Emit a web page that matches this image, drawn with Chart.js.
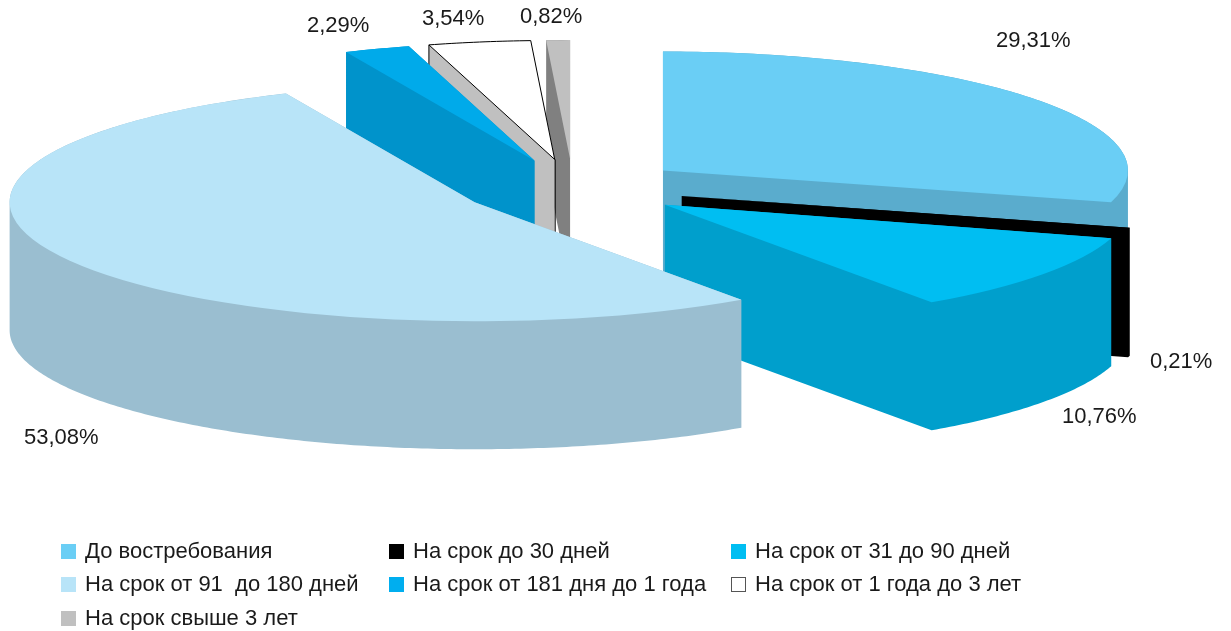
<!DOCTYPE html>
<html>
<head>
<meta charset="utf-8">
<script src="https://cdn.jsdelivr.net/npm/chart.js@4.4.1/dist/chart.umd.min.js"></script>
<style>
  html, body { margin: 0; padding: 0; background: #ffffff; }
  #wrap { position: relative; width: 1231px; height: 631px; overflow: hidden; }
  #c { position: absolute; left: 0; top: 0; }
  .lg-item { position: absolute; height: 25px; white-space: pre;
             font-family: 'Liberation Sans', Arial, Helvetica, sans-serif; font-size: 22px;
             line-height: 25px; color: #1a1a1a; }
  .lg-box { position: absolute; left: 0; top: 6px; width: 15px; height: 15px; box-sizing: border-box; }
  .lg-text { position: absolute; left: 24px; top: 0; }
</style>
</head>
<body>
<div id="wrap">
  <canvas id="c" width="1231" height="631"></canvas>
  <div id="legend"></div>
</div>
<script>
// ---- data ----
const categories = [
  'До востребования',
  'На срок до 30 дней',
  'На срок от 31 до 90 дней',
  'На срок от 91  до 180 дней',
  'На срок от 181 дня до 1 года',
  'На срок от 1 года до 3 лет',
  'На срок свыше 3 лет'
];
const shares = [29.31, 0.21, 10.76, 53.08, 2.29, 3.54, 0.82];
const shareLabels = shares.map(v => v.toFixed(2).replace('.', ',') + '%');

// ---- styles ----
const topColors  = ['#6ACEF5', '#000000', '#00BEF2', '#B8E4F8', '#00AAEA', '#FFFFFF', '#C0C0C0'];
const sideColors = ['#5AACCD', '#000000', '#009FCC', '#9ABED0', '#0093CB', '#C0C0C0', '#808080'];
const legendColors = ['#6ACEF5', '#000000', '#00BEF2', '#B8E4F8', '#00AEEF', '#FFFFFF', '#C0C0C0'];
const edgeColors = [null, null, null, null, null, '#000000', null];
// text anchors for value labels (left x, baseline y)
const labelAnchors = [[996, 47], [1150, 368], [1062, 423], [24, 444], [307, 32], [422, 25], [520, 23]];

// ---- 3D geometry ----
const CX = 573, CY = 188, RX = 465, RY = 119, EXPLODE = 113, DEPTH = 128;

function addPoly(ctx, poly) {
  let a = 0;
  for (let i = 0; i < poly.length; i++) {
    const p = poly[i], q = poly[(i + 1) % poly.length];
    a += p[0] * q[1] - q[0] * p[1];
  }
  const P = a < 0 ? poly.slice().reverse() : poly;
  ctx.moveTo(P[0][0], P[0][1]);
  for (let i = 1; i < P.length; i++) ctx.lineTo(P[i][0], P[i][1]);
  ctx.closePath();
}

const pie3d = {
  id: 'pie3d',
  beforeDatasetsDraw(chart) {
    const ctx = chart.ctx;
    const meta = chart.getDatasetMeta(0);
    const items = meta.data.map((el, i) => {
      const mid = (el.startAngle + el.endAngle) / 2;
      const ax = CX + Math.cos(mid) * EXPLODE;
      const ay = CY + Math.sin(mid) * EXPLODE * RY / RX;
      const span = el.endAngle - el.startAngle;
      const n = Math.max(6, Math.ceil(span * 80));
      const pts = [[ax, ay]];
      let maxY = ay;
      for (let k = 0; k <= n; k++) {
        const t = el.startAngle + span * k / n;
        const p = [ax + RX * Math.cos(t), ay + RY * Math.sin(t)];
        pts.push(p);
        maxY = Math.max(maxY, p[1]);
      }
      return { el, i, ax, ay, pts, key: maxY };
    }).sort((a, b) => a.key - b.key);

    for (const it of items) {
      const el = it.el;
      const R = el.outerRadius;
      // side walls (extrusion of the slice outline)
      const pts = it.pts;
      const low = pts.map(p => [p[0], p[1] + DEPTH]);
      ctx.save();
      ctx.fillStyle = sideColors[it.i];
      ctx.beginPath();
      addPoly(ctx, pts);
      addPoly(ctx, low);
      for (let k = 0; k < pts.length; k++) {
        const a = pts[k], b = pts[(k + 1) % pts.length];
        addPoly(ctx, [a, b, [b[0], b[1] + DEPTH], [a[0], a[1] + DEPTH]]);
      }
      ctx.fill('nonzero');
      ctx.restore();

      // top face: the library's own arc element, projected onto the tilted plane
      const p = Object.create(el);
      p.options = Object.assign({}, el.options, { backgroundColor: topColors[it.i], borderColor: topColors[it.i], borderWidth: 0, offset: 0 });
      ctx.save();
      ctx.translate(it.ax, it.ay);
      ctx.scale(RX / R, RY / R);
      ctx.translate(-el.x, -el.y);
      p.draw(ctx);
      ctx.restore();

      const edge = edgeColors[it.i];
      if (edge) {
        ctx.save();
        ctx.strokeStyle = edge;
        ctx.lineWidth = 1;
        ctx.beginPath();
        ctx.moveTo(pts[0][0], pts[0][1]);
        for (let k = 1; k < pts.length; k++) ctx.lineTo(pts[k][0], pts[k][1]);
        ctx.closePath();
        ctx.moveTo(it.ax + 0.5, it.ay);
        ctx.lineTo(it.ax + 0.5, it.ay + DEPTH);
        ctx.moveTo(pts[1][0], pts[1][1]);
        ctx.lineTo(pts[1][0], pts[1][1] + DEPTH);
        ctx.stroke();
        ctx.restore();
      }
    }
    return false;
  },
  afterDraw(chart) {
    const ctx = chart.ctx;
    ctx.save();
    ctx.font = "22px 'Liberation Sans', Arial, sans-serif";
    ctx.fillStyle = '#1a1a1a';
    ctx.textAlign = 'left';
    ctx.textBaseline = 'alphabetic';
    shareLabels.forEach((s, i) => ctx.fillText(s, labelAnchors[i][0], labelAnchors[i][1]));
    ctx.restore();
  }
};

new Chart(document.getElementById('c'), {
  type: 'pie',
  data: {
    labels: categories,
    datasets: [{ data: shares, backgroundColor: topColors, borderWidth: 0 }]
  },
  options: {
    responsive: false,
    animation: false,
    events: [],
    rotation: 0,
    layout: { padding: 0 },
    plugins: { legend: { display: false }, tooltip: { enabled: false } }
  },
  plugins: [pie3d]
});

// ---- HTML legend (3 columns) ----
const colX = [61, 389, 731];
const rowY = [544, 577, 611];
const legend = document.getElementById('legend');
categories.forEach((name, i) => {
  const item = document.createElement('div');
  item.className = 'lg-item';
  item.style.left = colX[i % 3] + 'px';
  item.style.top = (rowY[Math.floor(i / 3)] - 6) + 'px';
  const box = document.createElement('div');
  box.className = 'lg-box';
  box.style.background = legendColors[i];
  if (legendColors[i] === '#FFFFFF') box.style.border = '1px solid #555';
  const txt = document.createElement('span');
  txt.className = 'lg-text';
  txt.textContent = name;
  item.appendChild(box);
  item.appendChild(txt);
  legend.appendChild(item);
});
</script>
</body>
</html>
